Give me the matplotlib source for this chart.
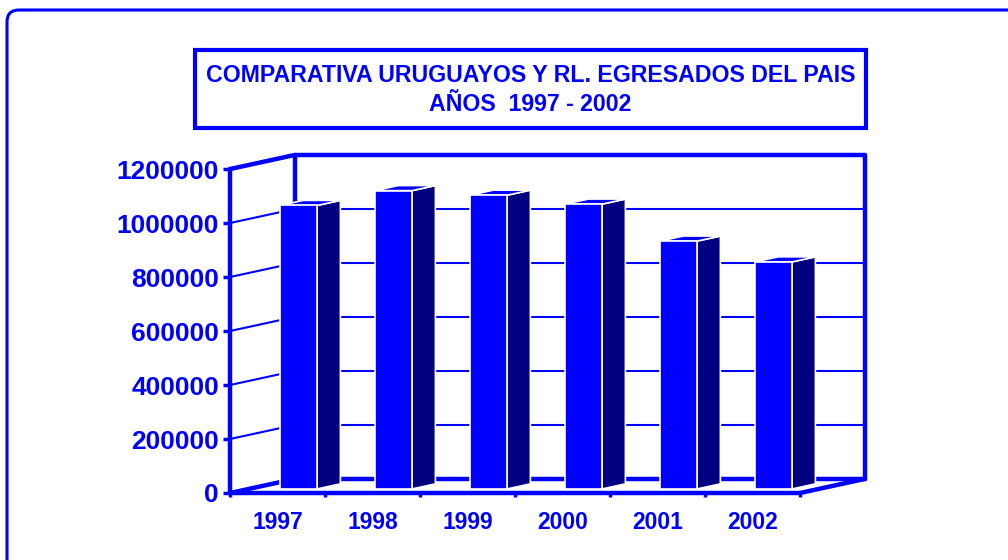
import matplotlib.pyplot as plt
from matplotlib.patches import Rectangle, Polygon, FancyBboxPatch

plt.rcParams['font.family'] = ['Liberation Sans', 'DejaVu Sans']

# data
years = ['1997', '1998', '1999', '2000', '2001', '2002']
egresados = [1050000, 1105000, 1088000, 1055000, 918000, 841000]
yticks = [0, 200000, 400000, 600000, 800000, 1000000, 1200000]
title_lines = ['COMPARATIVA URUGUAYOS Y RL. EGRESADOS DEL PAIS', 'AÑOS  1997 - 2002']

BLUE = '#0000FF'
NAVY = '#000080'

# fake 3d depth (in data units)
DX = 0.68
DY = 52000
YMAX = 1200000
n = len(years)

fig = plt.figure(figsize=(10.08, 5.6), dpi=100)
ax = fig.add_axes([230 / 1008, 67 / 560, (n + DX) * 95 / 1008, 338 / 560])
ax.set_xlim(0, n + DX)
ax.set_ylim(0, YMAX + DY)

# outer border and title box
fig.patches.append(FancyBboxPatch((0.07, -0.5), 11, 6.0, boxstyle='round,pad=0,rounding_size=0.12',
                                  transform=fig.dpi_scale_trans, fill=False, ec=BLUE, lw=2.2))
fig.patches.append(Rectangle((1.95, 4.32), 6.71, 0.78, transform=fig.dpi_scale_trans,
                             fill=False, ec=BLUE, lw=3))
fig.text(5.305, 4.85, title_lines[0], transform=fig.dpi_scale_trans, ha='center', va='center',
         fontsize=16.7, fontweight='bold', color=BLUE)
fig.text(5.305, 4.56, title_lines[1], transform=fig.dpi_scale_trans, ha='center', va='center',
         fontsize=16.7, fontweight='bold', color=BLUE)

# walls: gridlines
for v in yticks[1:]:
    ax.plot([0, DX], [v, v + DY], color=BLUE, lw=1.5, zorder=1)
    ax.plot([DX, n + DX], [v + DY, v + DY], color=BLUE, lw=1.5, zorder=1)

thick = dict(color=BLUE, lw=3.2, zorder=2, solid_capstyle='round', clip_on=False)
ax.plot([DX, n + DX], [DY, DY], **thick)                  # floor back edge
ax.plot([0, DX], [0, DY], **thick)                        # floor left edge
ax.plot([n, n + DX], [0, DY], **thick)                    # floor right edge
ax.plot([DX, DX], [DY, YMAX + DY], **thick)               # back left vertical
ax.plot([n + DX, n + DX], [DY, YMAX + DY], **thick)       # back right vertical
ax.plot([0, DX, n + DX], [YMAX, YMAX + DY, YMAX + DY], **thick)  # top edge

# bars
f0, f1 = 0.29, 0.65
y0 = f0 * DY
ddx = (f1 - f0) * DX
ddy = (f1 - f0) * DY
for i, v in enumerate(egresados):
    x0 = i + 0.33 + f0 * DX
    x1 = x0 + 0.39
    ax.add_patch(Polygon([(x1, y0), (x1 + ddx, y0 + ddy), (x1 + ddx, y0 + ddy + v), (x1, y0 + v)],
                         fc=NAVY, ec='white', lw=1.2, zorder=3))
    ax.add_patch(Polygon([(x0, y0 + v), (x1, y0 + v), (x1 + ddx, y0 + v + ddy), (x0 + ddx, y0 + v + ddy)],
                         fc=BLUE, ec='white', lw=1.2, zorder=3))
    ax.add_patch(Rectangle((x0, y0), x1 - x0, v, fc=BLUE, ec='white', lw=1.2, zorder=4))

# front axes
for s in ['top', 'right']:
    ax.spines[s].set_visible(False)
ax.spines['left'].set_bounds(0, YMAX)
ax.spines['bottom'].set_bounds(0, n)
for s in ['left', 'bottom']:
    ax.spines[s].set_color(BLUE)
    ax.spines[s].set_linewidth(3.2)
    ax.spines[s].set_zorder(5)
    ax.spines[s].set_capstyle('round')

ax.set_yticks(yticks)
ax.set_yticklabels([str(v) for v in yticks], fontsize=19, fontweight='bold', color=BLUE)
ax.tick_params(axis='y', length=5, width=2.5, color=BLUE, pad=3)

ax.set_xticks(range(n + 1))
ax.set_xticklabels([''] * (n + 1))
ax.tick_params(axis='x', which='major', length=3, width=2.5, color=BLUE)
ax.set_xticks([i + 0.5 for i in range(n)], minor=True)
ax.set_xticklabels(years, minor=True, fontsize=16.5, fontweight='bold', color=BLUE)
ax.tick_params(axis='x', which='minor', length=0, pad=13)

ax.set_facecolor('none')
fig.savefig('out.png', dpi=100, facecolor='white')
